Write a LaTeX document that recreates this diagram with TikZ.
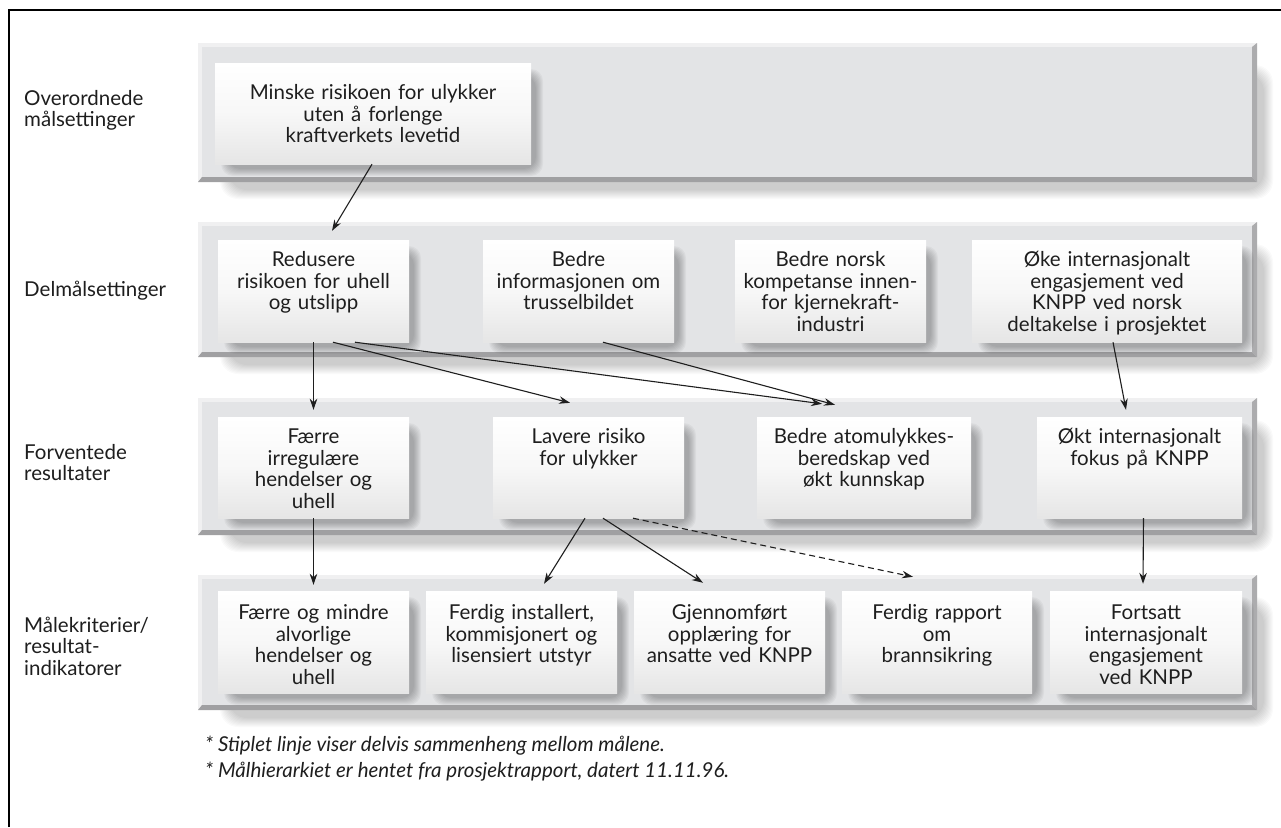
\documentclass[tikz,border=0pt]{standalone}
\usepackage{fontspec}
\setmainfont{Lato}
\usetikzlibrary{arrows.meta,calc}
\definecolor{bandface}{RGB}{227,228,230}
\definecolor{bandlight}{RGB}{240,240,241}
\definecolor{bandright}{RGB}{172,172,174}
\definecolor{bandbottom}{RGB}{160,160,162}
\definecolor{ink}{RGB}{30,30,30}

\newcommand\bandpanel[4]{%
  \foreach \i in {0,...,9}{%
    \fill[black,opacity=0.02,rounded corners=18pt] ({#1+22+\i},{#2+22+\i}) rectangle ({#3+16-\i},{#4+17-\i});
  }%
  \fill[bandlight] (#1,#2) rectangle (#3,#4);
  \fill[bandright] (#3,#2) -- (#3,#4) -- ({#3-5},{#4-5}) -- ({#3-5},{#2+4}) -- cycle;
  \fill[bandbottom] (#1,#4) -- (#3,#4) -- ({#3-5},{#4-5}) -- ({#1+4},{#4-5}) -- cycle;
  \fill[bandface] ({#1+4},{#2+4}) rectangle ({#3-5},{#4-5});
}

\newcommand\goalbox[7]{%
  \foreach \i in {0,...,7}{%
    \fill[black,opacity=0.035,rounded corners=12pt] ({#1+6+\i},{#2+6+\i}) rectangle ({#3+12-\i},{#4+12-\i});
  }%
  \pgfmathsetmacro\gbw{#3-#1}%
  \pgfmathsetmacro\gbh{#4-#2}%
  \pgfmathsetmacro\gbt{#3-#1-4}%
  \node[goal, minimum width=\gbw pt, minimum height=\gbh pt] (#5) at ({(#1+#3)/2},{(#2+#4)/2}) {};
  \node[goaltext, text width=\gbt pt] (#5t) at ([yshift=-#6pt]#5.north) {#7};
}

\tikzset{
  goal/.style={rectangle, inner sep=0pt, draw=none, top color=white, bottom color=black!10, middle color=white!97!black},
  goaltext/.style={anchor=base, inner sep=0pt, align=center, text=ink, font=\fontsize{20.5}{21.5}\selectfont},
  lab/.style={anchor=base west, inner sep=0pt, align=left, text=ink, text width=175pt, font=\fontsize{20.5}{21.5}\selectfont},
  note/.style={anchor=base west, inner sep=0pt, text=ink, font=\fontsize{20.5}{24}\selectfont\itshape},
  arr/.style={draw=ink, line width=1.1pt, -{Stealth[length=11pt,width=7.5pt]}},
  darr/.style={arr, dash pattern=on 6pt off 4pt}
}

\begin{document}
\begin{tikzpicture}[x=1pt,y=-1pt]
\useasboundingbox (0,0) rectangle (1281,827);
\fill[white] (0,0) rectangle (1281,827);
\draw[line width=2.2pt, black] (9,827) -- (9,10) -- (1281,10);

\bandpanel{198}{43}{1257}{182}
\bandpanel{198}{222}{1257}{357}
\bandpanel{198}{398}{1257}{535}
\bandpanel{198}{575}{1257}{710}

\node[lab] (l1) at (24,105) {Overordnede\\målsettinger};
\node[lab] (l2) at (24,296) {Delmålsettinger};
\node[lab] (l3) at (24,459) {Forventede\\resultater};
\node[lab] (l4) at (24,632) {Målekriterier/\\resultat-\\indikatorer};

\goalbox{215}{63}{531}{164}{top}{37}{Minske risikoen for ulykker\\uten å forlenge\\kraftverkets levetid}

\goalbox{218}{240}{409}{342}{red}{27}{Redusere\\risikoen for uhell\\og utslipp}
\goalbox{483}{240}{674}{342}{info}{27}{Bedre\\informasjonen om\\trusselbildet}
\goalbox{735}{240}{926}{342}{norsk}{27}{Bedre norsk\\kompetanse innen-\\for kjernekraft-\\industri}
\goalbox{972}{240}{1242}{342}{oke}{27}{Øke internasjonalt\\engasjement ved\\KNPP ved norsk\\deltakelse i prosjektet}

\goalbox{218}{417}{409}{518}{f1}{27}{Færre\\irregulære\\hendelser og\\uhell}
\goalbox{493}{417}{684}{518}{lav}{27}{Lavere risiko\\for ulykker}
\goalbox{757}{417}{971}{518}{atom}{27}{Bedre atomulykkes-\\beredskap ved\\økt kunnskap}
\goalbox{1037}{417}{1242}{518}{okt}{27}{Økt internasjonalt\\fokus på KNPP}

\goalbox{218}{591}{409}{693}{m1}{29}{Færre og mindre\\alvorlige\\hendelser og\\uhell}
\goalbox{426}{591}{617}{693}{m2}{29}{Ferdig installert,\\kommisjonert og\\lisensiert utstyr}
\goalbox{634}{591}{825}{693}{m3}{29}{Gjennomført\\opplæring for\\ansatte ved KNPP}
\goalbox{842}{591}{1032}{693}{m4}{29}{Ferdig rapport\\om\\brannsikring}
\goalbox{1050}{591}{1242}{693}{m5}{29}{Fortsatt\\internasjonalt\\engasjement\\ved KNPP}

\draw[arr] ([xshift=-1pt]top.south) -- ([xshift=18.5pt,yshift=9pt]red.north);
\draw[arr] (red.south) -- ([yshift=7pt]f1.north);
\draw[arr] ([xshift=19.5pt]red.south) -- ([xshift=-18.5pt,yshift=14pt]lav.north);
\draw[arr] ([xshift=41.5pt]red.south) -- ([xshift=-42pt,yshift=13pt]atom.north);
\draw[arr] ([xshift=24.5pt]info.south) -- ([xshift=-29pt,yshift=12pt]atom.north);
\draw[arr] ([xshift=6pt]oke.south) -- ([xshift=-13.5pt,yshift=7pt]okt.north);
\draw[arr] (f1.south) -- ([yshift=6pt]m1.north);
\draw[arr] ([xshift=-3.5pt]lav.south) -- ([xshift=22.5pt,yshift=7pt]m2.north);
\draw[arr] ([xshift=14.5pt]lav.south) -- ([xshift=-26.5pt,yshift=8pt]m3.north);
\draw[darr] ([xshift=44.5pt]lav.south) -- ([xshift=-24pt,yshift=14pt]m4.north);
\draw[arr] ([xshift=4pt]okt.south) -- ([xshift=-3pt,yshift=7pt]m5.north);

\node[note] (n1) at (205,751) {* Stiplet linje viser delvis sammenheng mellom målene.};
\node[note] (n2) at (205,777) {* Målhierarkiet er hentet fra prosjektrapport, datert 11.11.96.};
\end{tikzpicture}
\end{document}
